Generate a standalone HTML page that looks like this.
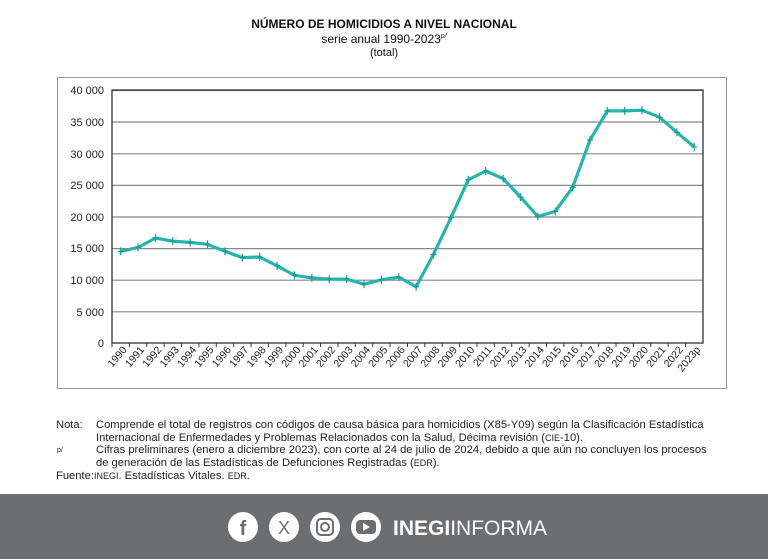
<!DOCTYPE html>
<html><head><meta charset="utf-8"><style>
body{margin:0;width:768px;height:559px;background:#fff;font-family:"Liberation Sans",sans-serif;overflow:hidden;position:relative}
.t{position:absolute;left:0;width:768px;text-align:center;color:#111}
.n{position:absolute;font-size:11.2px;color:#222;line-height:13px}
</style></head><body>
<div class="t" style="top:17px;font-size:12px;font-weight:bold">NÚMERO DE HOMICIDIOS A NIVEL NACIONAL</div>
<div class="t" style="top:32px;font-size:12px">serie anual 1990-2023<sup style="font-size:7px;font-style:italic">p/</sup></div>
<div class="t" style="top:47px;font-size:11px">(total)</div>
<svg width="768" height="559" style="position:absolute;left:0;top:0">
<rect x="57.5" y="77.5" width="669" height="311" fill="none" stroke="#999" stroke-width="1"/>
<g stroke="#888" stroke-width="1.2">
<line x1="112" y1="90.5" x2="703" y2="90.5"/><line x1="112" y1="122" x2="703" y2="122"/><line x1="112" y1="153.8" x2="703" y2="153.8"/><line x1="112" y1="185.4" x2="703" y2="185.4"/><line x1="112" y1="217" x2="703" y2="217"/><line x1="112" y1="248.6" x2="703" y2="248.6"/><line x1="112" y1="280.2" x2="703" y2="280.2"/><line x1="112" y1="311.8" x2="703" y2="311.8"/>
</g>
<rect x="112" y="90" width="591" height="253" fill="none" stroke="#333" stroke-width="1.3"/>
<g font-size="11" fill="#222" text-anchor="end">
<text x="104" y="94">40 000</text><text x="104" y="126">35 000</text><text x="104" y="158">30 000</text><text x="104" y="189">25 000</text><text x="104" y="221">20 000</text><text x="104" y="252">15 000</text><text x="104" y="284">10 000</text><text x="104" y="316">5 000</text><text x="104" y="347">0</text>
</g>
<g id="pl"></g>
</svg>
<div class="n" style="left:56px;top:419px">Nota:</div>
<div class="n" style="left:96px;top:419px">Comprende el total de registros con códigos de causa básica para homicidios (X85-Y09) según la Clasificación Estadística<br>Internacional de Enfermedades y Problemas Relacionados con la Salud, Décima revisión (<span style="font-size:9px">CIE</span>-10).</div>
<div class="n" style="left:57px;top:444px;font-size:7px">p/</div>
<div class="n" style="left:96px;top:444px">Cifras preliminares (enero a diciembre 2023), con corte al 24 de julio de 2024, debido a que aún no concluyen los procesos<br>de generación de las Estadísticas de Defunciones Registradas (<span style="font-size:9px">EDR</span>).</div>
<div class="n" style="left:56px;top:470px">Fuente:<span style="font-size:9px">INEGI</span>. Estadísticas Vitales. <span style="font-size:9px">EDR</span>.</div>
<div style="position:absolute;left:0;top:494px;width:768px;height:65px;background:#6d6e70"></div>
<svg width="768" height="559" style="position:absolute;left:0;top:0">
<g fill="#fff"><circle cx="243" cy="527" r="15"/><circle cx="284" cy="527" r="15"/><circle cx="325" cy="527" r="15"/><circle cx="366" cy="527" r="15"/></g>
<text x="243" y="535" font-size="20" font-weight="bold" fill="#6d6e70" text-anchor="middle">f</text>
<text x="284" y="534" font-size="18" fill="#6d6e70" text-anchor="middle">X</text>
<rect x="317" y="519" width="16" height="16" rx="4" fill="none" stroke="#6d6e70" stroke-width="2"/><circle cx="325" cy="527" r="4" fill="none" stroke="#6d6e70" stroke-width="2"/>
<rect x="356" y="520" width="20" height="14" rx="4" fill="#6d6e70"/><polygon points="363,523 363,531 370,527" fill="#fff"/>
<text x="393" y="535" font-size="21" fill="#fff"><tspan font-weight="bold">INEGI</tspan>INFORMA</text>
</svg>
<script>
var v=[14500,15100,16600,16100,15900,15600,14500,13500,13600,12200,10700,10300,10100,10100,9300,10000,10400,8900,14000,19800,25800,27200,26000,23100,20000,20800,24600,32100,36700,36700,36800,35700,33300,31000];
var lab=[];for(var i=0;i<33;i++)lab.push(1990+i);lab.push("2023p");
var g=document.getElementById('pl'),s='',p=[];
for(var i=0;i<34;i++){var x=112+17.38*(i+0.5),y=343-v[i]/40000*253;p.push(x.toFixed(1)+','+y.toFixed(1));
s+='<line x1="'+(x-3)+'" y1="'+y+'" x2="'+(x+3)+'" y2="'+y+'" stroke="#1a9e94" stroke-width="1.2"/><line x1="'+x+'" y1="'+(y-4)+'" x2="'+x+'" y2="'+(y+4)+'" stroke="#1a9e94" stroke-width="1.2"/>';
var tx=112+17.38*(i+1);s+='<line x1="'+(112+17.38*i)+'" y1="343" x2="'+(112+17.38*i)+'" y2="347" stroke="#333"/>';
s+='<text font-size="10.5" fill="#222" text-anchor="end" transform="translate('+(tx-2)+',350) rotate(-50)">'+lab[i]+'</text>';}
s='<polyline points="'+p.join(' ')+'" fill="none" stroke="#26b5aa" stroke-width="3.2" stroke-linejoin="round"/>'+s;
g.innerHTML=s;
</script>
</body></html>
